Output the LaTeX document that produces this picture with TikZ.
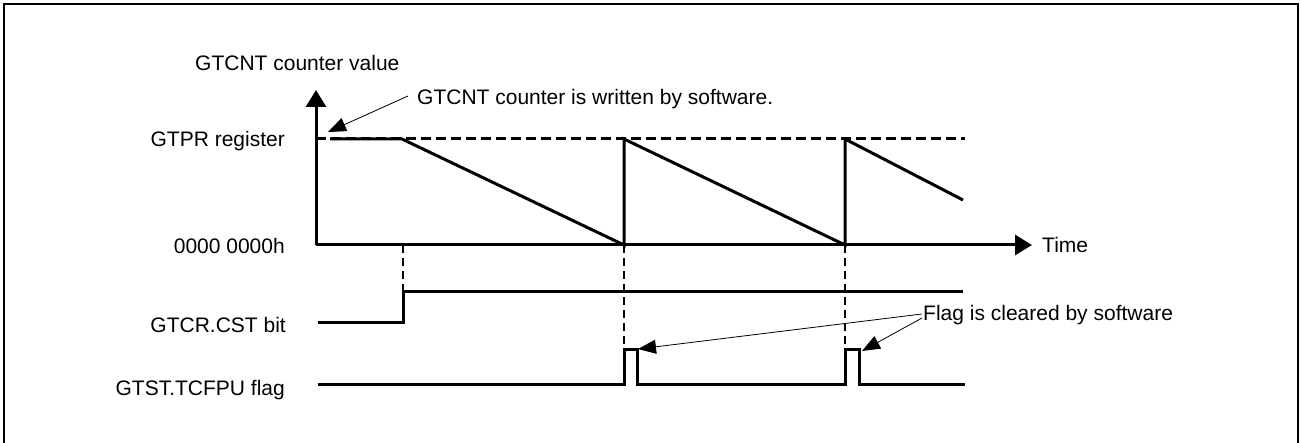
\documentclass[tikz,border=0pt]{standalone}
\usepackage{fontspec}
\setmainfont{Liberation Sans}
\usetikzlibrary{arrows.meta}
\begin{document}
\begin{tikzpicture}[x=1pt,y=-1pt,
  sig/.style={line width=3pt},
  guide/.style={line width=2pt, dash pattern=on 8pt off 5pt},
  lvl/.style={line width=3pt, dash pattern=on 10pt off 5pt},
  note/.style={line width=0.8pt, -{Triangle[length=18pt,width=14pt]}},
  axisline/.style={line width=3pt, -{Triangle[length=17pt,width=20pt]}},
  lbl/.style={font=\fontsize{21}{25}\selectfont, inner sep=0pt},
]
\useasboundingbox (0,0) rectangle (1300,443);
\draw[line width=2pt] (4,443) -- (4,4) -- (1298,4) -- (1298,443);

% labels
\node[lbl, anchor=base west] (ylab) at (195,71) {GTCNT counter value};
\node[lbl, anchor=base east] (gtpr) at (285,147) {GTPR register};
\node[lbl, anchor=base east] (zero) at (285,254) {0000 0000h};
\node[lbl, anchor=base east] (cst) at (286,333) {GTCR.CST bit};
\node[lbl, anchor=base east] (flag) at (285,395) {GTST.TCFPU flag};
\node[lbl, anchor=base west] (wr) at (417,105) {GTCNT counter is written by software.};
\node[lbl, anchor=base west] (clr) at (923,320) {Flag is cleared by software};
\node[lbl, anchor=base west] (time) at (1042,253) {Time};

% coordinates
\coordinate (o) at (316,245);
\coordinate (ytip) at (316,90);
\coordinate (xtip) at (1032,245);
\coordinate (wrs) at (408,96);
\coordinate (wrt) at (328,132);
\coordinate (c1s) at (922,314);
\coordinate (c2s) at (922,318);
\coordinate (p1) at (638,349);
\coordinate (p2) at (862,351);

% axes
\draw[axisline] (o) -- (ytip);
\draw[axisline] (o) -- (xtip);

% GTPR level
\draw[lvl] (316,139) -- (965,139);

% counter
\draw[sig, line join=miter] (330,139) -- (402,139) -- (624,245) -- (624,139)
  -- (845,245) -- (845,139) -- (963,200);

% guides
\draw[guide] (403,245) -- (403,292);
\draw[guide] (624,245) -- (624,349);
\draw[guide] (845,245) -- (845,349);

% CST
\draw[sig] (318,323) -- (403,323) -- (403,292) -- (963,292);

% flag
\draw[sig] (318,384) -- (624,384) -- (624,349) -- (637,349) -- (637,384)
  -- (845,384) -- (845,349) -- (859,349) -- (859,384) -- (965,384);

% notes
\draw[note] (wrs) -- (wrt);
\draw[note] (c1s) -- (p1);
\draw[note] (c2s) -- (p2);
\end{tikzpicture}
\end{document}
